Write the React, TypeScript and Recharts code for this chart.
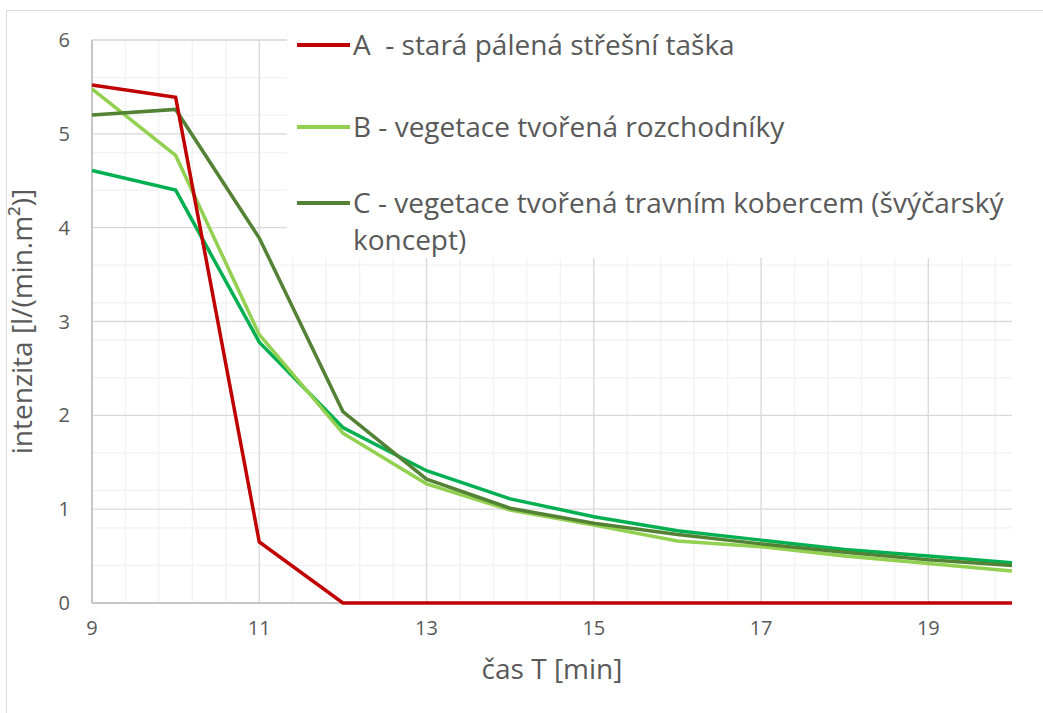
import { LineChart, Line, XAxis, YAxis, CartesianGrid } from "recharts";

// time in minutes
const minutes = [9, 10, 11, 12, 13, 14, 15, 16, 17, 18, 19, 20];

// intensity values
const seriesA = [5.52, 5.39, 0.65, 0, 0, 0, 0, 0, 0, 0, 0, 0];
const seriesB = [5.48, 4.77, 2.86, 1.81, 1.27, 0.99, 0.83, 0.66, 0.6, 0.5, 0.42, 0.34];
const seriesC = [5.2, 5.26, 3.89, 2.04, 1.32, 1.01, 0.85, 0.73, 0.63, 0.54, 0.46, 0.4];
const seriesD = [4.61, 4.4, 2.78, 1.87, 1.41, 1.11, 0.92, 0.77, 0.67, 0.57, 0.5, 0.43];

const xTicks = [9, 11, 13, 15, 17, 19];
const yTicks = [0, 1, 2, 3, 4, 5, 6];

const legendNames = [
  "A  - stará pálená střešní taška",
  "B - vegetace tvořená rozchodníky",
  "C - vegetace tvořená travním kobercem (švýčarský koncept)",
];
const legendColors = ["#c00000", "#92d050", "#548235"];

const data = minutes.map((m, i) => ({
  t: m,
  a: seriesA[i],
  b: seriesB[i],
  c: seriesC[i],
  d: seriesD[i],
}));

// minor gridlines like Excel (x every 0.4, y every 0.2)
const minorX: number[] = [];
for (let i = 0; 9 + i * 0.4 < 20; i++) minorX.push(+(9 + i * 0.4).toFixed(2));
const minorY: number[] = [];
for (let i = 0; i <= 30; i++) minorY.push(+(i * 0.2).toFixed(2));

const font = "'Open Sans', 'Noto Sans', sans-serif";
const textColor = "#595959";
const legendTops = [6, 88, 164];

export default function App() {
  return (
    <div style={{ position: "absolute", left: 0, top: 0, width: 1043, height: 713, background: "#fff", overflow: "hidden" }}>
      <div
        style={{
          position: "absolute",
          left: 6,
          top: 10,
          width: 1100,
          height: 800,
          border: "1px solid #d9d9d9",
          boxSizing: "border-box",
        }}
      />
      <div style={{ position: "absolute", left: 0, top: 0 }}>
        <LineChart width={1043} height={713} data={data} margin={{ top: 40, right: 31, left: 0, bottom: 0 }}>
          <CartesianGrid stroke="#f2f2f2" strokeWidth={1.3} verticalValues={minorX} horizontalValues={minorY} />
          <CartesianGrid stroke="#d9d9d9" strokeWidth={1.3} verticalValues={xTicks} horizontalValues={yTicks} />
          {/* axis lines drawn as grid so the series stay on top */}
          <CartesianGrid stroke="#bfbfbf" strokeWidth={1.6} verticalValues={[9]} horizontalValues={[0]} />
          <XAxis
            dataKey="t"
            type="number"
            domain={[9, 20]}
            ticks={xTicks}
            height={110}
            axisLine={false}
            tickLine={false}
            tick={{ fill: textColor, fontSize: 20, fontFamily: font }}
            tickMargin={12}
            label={{ value: "čas T [min]", position: "insideTop", offset: 56, fill: textColor, fontSize: 28, fontFamily: font }}
          />
          <YAxis
            type="number"
            domain={[0, 6]}
            ticks={yTicks}
            width={92}
            axisLine={false}
            tickLine={false}
            tick={{ fill: textColor, fontSize: 20, fontFamily: font }}
            tickMargin={16}
            label={{
              value: "intenzita [l/(min.m²)]",
              angle: -90,
              position: "insideLeft",
              offset: 22,
              fill: textColor,
              fontSize: 28,
              fontFamily: font,
              style: { textAnchor: "middle" },
            }}
          />
          <Line type="linear" dataKey="d" stroke="#00b050" strokeWidth={3.5} dot={false} isAnimationActive={false} />
          <Line type="linear" dataKey="b" stroke="#92d050" strokeWidth={3.5} dot={false} isAnimationActive={false} />
          <Line type="linear" dataKey="c" stroke="#548235" strokeWidth={3.5} dot={false} isAnimationActive={false} />
          <Line type="linear" dataKey="a" stroke="#c00000" strokeWidth={3.5} dot={false} isAnimationActive={false} />
        </LineChart>
      </div>
      <div
        style={{
          position: "absolute",
          left: 287,
          top: 20,
          width: 728,
          height: 238,
          background: "#fff",
          fontFamily: font,
          fontSize: 28,
          color: textColor,
        }}
      >
        {legendNames.map((name, i) => (
          <div key={name} style={{ position: "absolute", top: legendTops[i], left: 0 }}>
            <div style={{ position: "absolute", left: 10, top: 17, width: 53, height: 3.5, background: legendColors[i] }} />
            <div style={{ position: "absolute", left: 66, top: 0, width: 662, lineHeight: "37px", whiteSpace: "pre-wrap" }}>{name}</div>
          </div>
        ))}
      </div>
    </div>
  );
}
